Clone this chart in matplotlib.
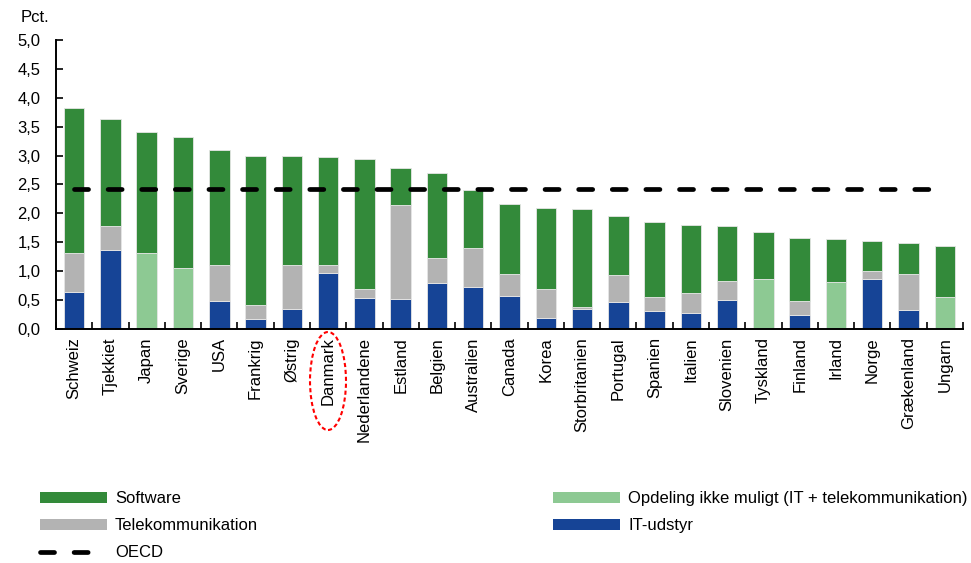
import numpy as np
import matplotlib
matplotlib.use('Agg')
import matplotlib.pyplot as plt
from matplotlib.patches import Patch, Ellipse
from matplotlib.lines import Line2D
from matplotlib.ticker import FuncFormatter, MultipleLocator

plt.rcParams['font.family'] = ['Liberation Sans', 'DejaVu Sans']
plt.rcParams['lines.scale_dashes'] = False

countries = ['Schweiz', 'Tjekkiet', 'Japan', 'Sverige', 'USA', 'Frankrig', 'Østrig',
             'Danmark', 'Nederlandene', 'Estland', 'Belgien', 'Australien', 'Canada',
             'Korea', 'Storbritanien', 'Portugal', 'Spanien', 'Italien', 'Slovenien',
             'Tyskland', 'Finland', 'Irland', 'Norge', 'Grækenland', 'Ungarn']
it_udstyr = [0.64, 1.37, 0, 0, 0.49, 0.17, 0.34, 0.97, 0.54, 0.52, 0.80, 0.73, 0.57,
             0.19, 0.34, 0.47, 0.31, 0.28, 0.50, 0, 0.25, 0, 0.86, 0.33, 0]
telekom = [0.67, 0.41, 0, 0, 0.61, 0.24, 0.76, 0.13, 0.15, 1.62, 0.42, 0.67, 0.38,
           0.51, 0.04, 0.46, 0.25, 0.35, 0.33, 0, 0.24, 0, 0.15, 0.62, 0]
opdeling = [0, 0, 1.31, 1.05, 0, 0, 0, 0, 0, 0, 0, 0, 0,
            0, 0, 0, 0, 0, 0, 0.86, 0, 0.81, 0, 0, 0.56]
software = [2.52, 1.85, 2.09, 2.28, 1.99, 2.58, 1.89, 1.88, 2.25, 0.64, 1.48, 1.01, 1.22,
            1.40, 1.70, 1.02, 1.29, 1.17, 0.96, 0.81, 1.08, 0.74, 0.52, 0.53, 0.87]
oecd = 2.42

c_sw = '#338a3a'
c_opd = '#8dc993'
c_tel = '#b3b3b3'
c_it = '#164496'
oecd_dash = (10.1, 14.1)

fig = plt.figure(figsize=(9.71, 5.63), dpi=100)
ax = fig.add_axes([0.0577, 0.4156, 0.934, 0.5134])

x = np.arange(len(countries))
w = 0.565
it_a = np.array(it_udstyr)
tel_a = np.array(telekom)
opd_a = np.array(opdeling)
sw_a = np.array(software)
kw = dict(width=w, edgecolor='#e6e6e6', linewidth=0.6)
ax.bar(x, it_a, color=c_it, **kw)
ax.bar(x, tel_a, bottom=it_a, color=c_tel, **kw)
ax.bar(x, opd_a, bottom=it_a + tel_a, color=c_opd, **kw)
ax.bar(x, sw_a, bottom=it_a + tel_a + opd_a, color=c_sw, **kw)
ax.plot(x, [oecd] * len(x), color='black', lw=3.4, dashes=oecd_dash,
        dash_capstyle='round', solid_capstyle='round')

ax.set_xlim(-0.5, len(x) - 0.5)
ax.set_ylim(0, 5)
ax.yaxis.set_major_locator(MultipleLocator(0.5))
ax.yaxis.set_major_formatter(FuncFormatter(lambda v, p: f'{v:.1f}'.replace('.', ',')))
ax.tick_params(axis='y', direction='in', length=5, width=1.2, labelsize=12, pad=11)
ax.set_xticks(x)
ax.set_xticklabels(countries, rotation=90, fontsize=12)
ax.set_xticks(np.arange(len(x) + 1) - 0.5, minor=True)
ax.tick_params(axis='x', which='major', length=0, pad=6)
ax.tick_params(axis='x', which='minor', direction='in', length=5, width=1.2)
for s in ['top', 'right']:
    ax.spines[s].set_visible(False)
for s in ['left', 'bottom']:
    ax.spines[s].set_linewidth(1.4)

fig.text(21 / 971, 1 - 17 / 563, 'Pct.', fontsize=12, va='center', ha='left')

# red dashed ellipse around Danmark
fig.add_artist(Ellipse((328 / 971, 1 - 381 / 563), 36 / 971, 98 / 563,
                       transform=fig.transFigure, fill=False, edgecolor='red',
                       lw=1.5, ls=(0, (3, 2))))

h_sw = Patch(facecolor=c_sw, label='Software')
h_tel = Patch(facecolor=c_tel, label='Telekommunikation')
h_oecd = Line2D([], [], color='black', lw=3.4, dashes=oecd_dash, dash_capstyle='round',
                label='OECD')
h_opd = Patch(facecolor=c_opd, label='Opdeling ikke muligt (IT + telekommunikation)')
h_it = Patch(facecolor=c_it, label='IT-udstyr')
lkw = dict(frameon=False, fontsize=12, handlelength=4.0, handleheight=0.65,
           handletextpad=0.5, labelspacing=0.73, borderpad=0, borderaxespad=0)
leg1 = fig.legend(handles=[h_sw, h_tel, h_oecd], loc='upper left',
                  bbox_to_anchor=(40 / 971, 1 - 491 / 563), **lkw)
leg2 = fig.legend(handles=[h_opd, h_it], loc='upper left',
                  bbox_to_anchor=(553 / 971, 1 - 491 / 563), **lkw)

fig.savefig('out.png', dpi=100)
